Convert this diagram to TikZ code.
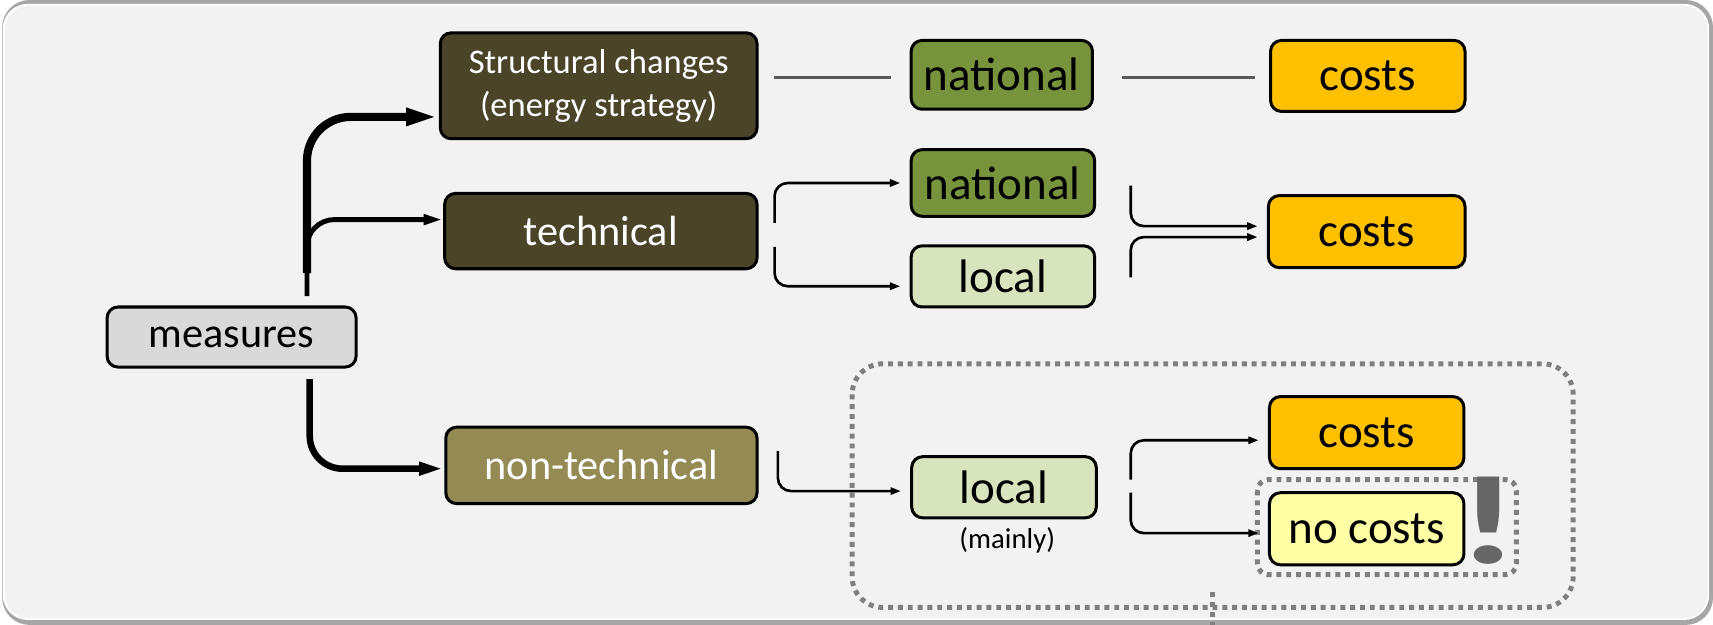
\documentclass[tikz,border=0pt]{standalone}
\usepackage{fontspec}
\setmainfont{Carlito}
\usetikzlibrary{arrows.meta}
\definecolor{bgfill}{HTML}{F2F2F2}
\definecolor{framegray}{HTML}{A6A6A6}
\definecolor{darkolive}{HTML}{4A4429}
\definecolor{tan}{HTML}{948A54}
\definecolor{natgreen}{HTML}{77933C}
\definecolor{locgreen}{HTML}{D7E4BD}
\definecolor{costorange}{HTML}{FFC000}
\definecolor{nocostyellow}{HTML}{FFFFA6}
\definecolor{measgray}{HTML}{D9D9D9}
\definecolor{dotgray}{HTML}{7F7F7F}
\definecolor{exclgray}{HTML}{666666}
\tikzset{
  box/.style={draw,line width=0.055cm,rounded corners=0.2cm,inner sep=0pt,align=center},
  bigtxt/.style={font=\fontsize{24.5}{28}\selectfont},
  midtxt/.style={font=\fontsize{22}{26}\selectfont},
  measbox/.style={box,midtxt,fill=measgray},
  darkbox/.style={box,midtxt,fill=darkolive,text=white},
  ntbox/.style={box,midtxt,fill=tan,text=white},
  natbox/.style={box,bigtxt,fill=natgreen},
  locbox/.style={box,bigtxt,fill=locgreen},
  costbox/.style={box,bigtxt,fill=costorange},
  nocostbox/.style={box,bigtxt,fill=nocostyellow},
  thinarr/.style={line width=0.048cm,rounded corners=0.24cm,shorten >=0.17cm,-{Triangle[length=0.19cm,width=0.13cm]}},
  plainline/.style={line width=0.04cm,draw=black!65},
  dotline/.style={draw=dotgray,line width=0.09cm,dash pattern=on 0.09cm off 0.09cm}
}
\begin{document}
\begin{tikzpicture}[x=0.02cm,y=-0.02cm]
\useasboundingbox(0,0)rectangle(1568,572);
% frame
\fill[framegray,rounded corners=0.5cm](2,0)rectangle(1568,572);
\fill[white,rounded corners=0.46cm](2.5,3.5)rectangle(1564.5,567.5);
\fill[bgfill,rounded corners=0.44cm](4.5,5)rectangle(1563,566);
% dotted boxes
\draw[dotline,rounded corners=0.56cm](780,333)rectangle(1440,556);
\draw[dotline](1110,542)--(1110,572);
\draw[dotline,rounded corners=0.2cm](1151,439)rectangle(1388,526);

\node[measbox,minimum width=4.56cm,minimum height=1.1cm](meas)at(212,308.5){measures};
\node[darkbox,font=\fontsize{18}{22.7}\selectfont,minimum width=5.8cm,minimum height=1.94cm](struct)at(548,78.5){Structural changes\\(energy strategy)};
\node[darkbox,minimum width=5.72cm,minimum height=1.38cm](tech)at(550,211.5){technical};
\node[ntbox,minimum width=5.7cm,minimum height=1.4cm](nontech)at(550.5,426){non-technical};
\node[natbox,minimum width=3.32cm,minimum height=1.26cm](natA)at(917,68.5){national};
\node[natbox,minimum width=3.36cm,minimum height=1.22cm](natB)at(918,167.5){national};
\node[locbox,minimum width=3.36cm,minimum height=1.12cm](locB)at(918,253){local};
\node[locbox,minimum width=3.38cm,minimum height=1.12cm](locC)at(919,446){local};
\node[font=\fontsize{15}{18}\selectfont](mainly)at(922,495){(mainly)};
\node[costbox,minimum width=3.56cm,minimum height=1.3cm](costA)at(1252,69.5){costs};
\node[costbox,minimum width=3.6cm,minimum height=1.32cm](costB)at(1251,212){costs};
\node[costbox,minimum width=3.56cm,minimum height=1.32cm](costC)at(1251,396){costs};
\node[nocostbox,minimum width=3.56cm,minimum height=1.32cm](nocost)at(1251,484){no costs};
\node[text=exclgray,font=\bfseries\fontsize{66}{66}\selectfont,inner sep=0pt](excl)at(1362.6,477){\scalebox{1.5}[1]{!}};

% thick branches
\coordinate(sS)at(281,250);
\coordinate(sT)at(281,271);
\coordinate(sN)at(283.5,347);
\draw[line width=0.15cm,rounded corners=0.8cm,-{Triangle[length=0.6cm,width=0.29cm]}](sS)|-([yshift=-0.57cm]struct.west);
\draw[line width=0.09cm,rounded corners=0.5cm,-{Triangle[length=0.36cm,width=0.18cm]}](sT)|-([yshift=0.21cm]tech.west);
\draw[line width=0.12cm,rounded corners=0.6cm,-{Triangle[length=0.46cm,width=0.22cm]}](sN)|-([yshift=-0.06cm]nontech.west);

% thin branches
\draw[plainline,shorten <=0.28cm,shorten >=0.34cm]([yshift=-0.05cm]natA.west -| struct.east)--([yshift=-0.05cm]natA.west);
\draw[plainline,shorten <=0.52cm,shorten >=0.26cm]([yshift=-0.05cm]natA.east)--([yshift=-0.05cm]natA.east -| costA.west);
\coordinate(bT1)at(709,204);
\coordinate(bT2)at(709,226);
\draw[thinarr](bT1)|-(natB.west);
\draw[thinarr](bT2)|-([yshift=-0.18cm]locB.west);
\coordinate(bC1)at(1035,170);
\coordinate(bC2)at(1035,254);
\draw[thinarr](bC1)|-([yshift=0.1cm]costB.west);
\draw[thinarr](bC2)|-([yshift=-0.1cm]costB.west);
\coordinate(bN)at(712,413);
\draw[thinarr](bN)|-([yshift=-0.07cm]locC.west);
\coordinate(bL1)at(1035,439);
\coordinate(bL2)at(1035,451);
\draw[thinarr](bL1)|-([yshift=-0.14cm]costC.west);
\draw[thinarr](bL2)|-([yshift=-0.08cm]nocost.west);
\end{tikzpicture}
\end{document}
